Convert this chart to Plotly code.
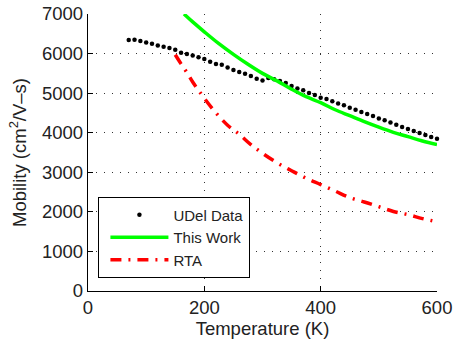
import plotly.graph_objects as go

# UDel data (T in K, mobility in cm^2/V-s)
udel_T = [70, 80, 90, 100, 110, 120, 130, 140, 150, 160, 170, 180, 190, 200,
          210, 220, 230, 240, 250, 260, 270, 280, 290, 300, 310, 320, 330, 340,
          350, 360, 370, 380, 390, 400, 410, 420, 430, 440, 450, 460, 470, 480,
          490, 500, 510, 520, 530, 540, 550, 560, 570, 580, 590, 600]
udel_mu = [6340, 6350, 6315, 6282, 6249, 6206, 6174, 6138, 6098, 6022, 5987, 5954, 5904, 5860,
           5795, 5734, 5719, 5650, 5583, 5532, 5491, 5431, 5365, 5322, 5380, 5348, 5305, 5254,
           5178, 5120, 5070, 5002, 4951, 4885, 4850, 4792, 4741, 4691, 4633, 4582, 4522, 4471,
           4420, 4362, 4312, 4261, 4203, 4143, 4092, 4042, 3991, 3941, 3890, 3850]

# This Work
work_T = [165, 180, 200, 225, 250, 275, 300, 325, 350, 375, 400, 425, 450, 475,
          500, 525, 550, 575, 600]
work_mu = [7000, 6800, 6550, 6250, 5980, 5730, 5500, 5310, 5100, 4910, 4760, 4580, 4430, 4280,
           4140, 4010, 3900, 3790, 3700]

# RTA
rta_T = [150, 160, 170, 180, 190, 200, 220, 240, 260, 280, 300, 325, 350, 375,
         400, 425, 450, 475, 500, 525, 550, 575, 600]
rta_mu = [5970, 5740, 5520, 5280, 5070, 4870, 4500, 4190, 3960, 3700, 3480, 3240, 3040, 2850,
          2690, 2525, 2360, 2250, 2130, 2010, 1930, 1830, 1750]

x_ticks = [0, 200, 400, 600]
y_ticks = [0, 1000, 2000, 3000, 4000, 5000, 6000, 7000]

fig = go.Figure()
fig.add_trace(go.Scatter(x=udel_T, y=udel_mu, mode="markers", name="UDel Data",
                         marker=dict(color="black", size=4.5), cliponaxis=False))
fig.add_trace(go.Scatter(x=work_T, y=work_mu, mode="lines", name="This Work",
                         line=dict(color="#00ff00", width=3.5, shape="spline")))
fig.add_trace(go.Scatter(x=rta_T, y=rta_mu, mode="lines", name="RTA",
                         line=dict(color="#ff0000", width=3.5, shape="spline",
                                   dash="11px,7px,2px,7px")))

font_family = "Liberation Sans, Arial, Helvetica, sans-serif"
axis_common = dict(
    showline=True, linecolor="black", linewidth=1.3, mirror=False,
    ticks="inside", ticklen=5, tickcolor="black", tickwidth=1,
    showgrid=True, gridcolor="#333333", gridwidth=1, griddash="1px,7px",
    zeroline=False, automargin=False,
    tickfont=dict(size=18.5, color="#222222", family=font_family),
)

fig.update_layout(
    width=453, height=349,
    margin=dict(l=88, r=16, t=14, b=58, autoexpand=False),
    paper_bgcolor="white", plot_bgcolor="white",
    font=dict(family=font_family, color="#222222"),
    xaxis=dict(range=[0, 600], tickvals=x_ticks,
               title=dict(text="Temperature (K)", font=dict(size=18.5), standoff=1),
               **axis_common),
    yaxis=dict(range=[0, 7000], tickvals=y_ticks,
               title=dict(text="Mobility (cm<sup>2</sup>/V–s)", font=dict(size=18.5), standoff=10),
               **axis_common),
    legend=dict(x=0.029, y=0.339, xanchor="left", yanchor="top",
                bgcolor="white", bordercolor="black", borderwidth=1.3,
                font=dict(size=15, color="#222222", family=font_family),
                itemwidth=58, tracegroupgap=0, indentation=6),
    showlegend=True,
)

# remove the default page margin so the 453x349 figure fills the window exactly
fig.write_html("out.html",
               config={"displayModeBar": False},
               post_script="document.body.style.margin='0';"
                           "document.documentElement.style.overflow='hidden';")
